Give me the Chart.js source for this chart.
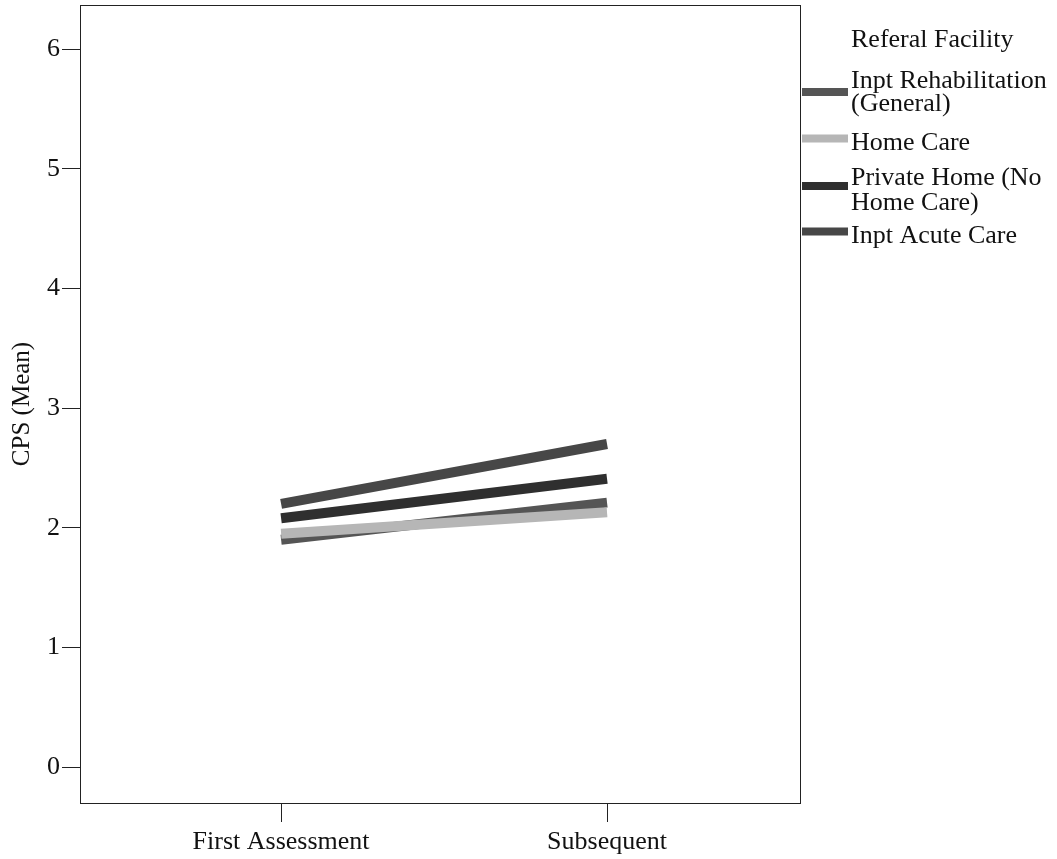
<!DOCTYPE html>
<html>
<head>
<meta charset="utf-8">
<script src="https://cdn.jsdelivr.net/npm/chart.js@4"></script>
<style>
html,body{margin:0;padding:0;background:#fff;}
#wrap{position:relative;width:1057px;height:859px;}
</style>
</head>
<body>
<div id="wrap"><canvas id="c" width="1057" height="859"></canvas></div>
<script>
const categories = ['First Assessment', 'Subsequent'];
const seriesNames = ['Inpt Rehabilitation (General)', 'Home Care', 'Private Home (No Home Care)', 'Inpt Acute Care'];
const legendLines = [['Inpt Rehabilitation', '(General)'], ['Home Care'], ['Private Home (No', 'Home Care)'], ['Inpt Acute Care']];
const inptRehab = [1.90, 2.21];
const homeCare = [1.95, 2.13];
const privateHome = [2.08, 2.41];
const inptAcute = [2.20, 2.70];
const yTicks = [0, 1, 2, 3, 4, 5, 6];
const legendTitle = 'Referal Facility';
const yTitle = 'CPS (Mean)';

const colors = ['#555555', '#b6b6b6', '#2f2f2f', '#474747'];
const values = [inptRehab, homeCare, privateHome, inptAcute];
const FONT = '"Liberation Serif", "Times New Roman", serif';

const datasets = seriesNames.map((name, i) => ({
  label: name,
  data: values[i].map((v, j) => ({x: j + 1, y: v})),
  borderColor: colors[i],
  backgroundColor: colors[i],
  borderWidth: 10,
  pointRadius: 0,
  borderCapStyle: 'butt',
  tension: 0,
  order: i === 1 ? 0 : 1
}));

const legendLayout = {
  title: 47,
  baselines: [[88, 111], [150], [185, 210], [243]],
  swatch: [92, 138.5, 186, 231.5]
};

const frame = {
  id: 'frame',
  afterDraw(chart) {
    const {ctx, chartArea: a} = chart;
    ctx.save();
    ctx.strokeStyle = '#222';
    ctx.lineWidth = 1;
    ctx.strokeRect(a.left + 0.5, a.top + 0.5, a.right - a.left, a.bottom - a.top);
    ctx.fillStyle = '#111';
    ctx.font = '26px ' + FONT;
    ctx.textBaseline = 'alphabetic';
    ctx.textAlign = 'left';
    ctx.fillText(legendTitle, 851, legendLayout.title);
    legendLines.forEach((lines, i) => {
      ctx.fillStyle = colors[i];
      ctx.fillRect(802, legendLayout.swatch[i] - 4, 46, 8);
      ctx.fillStyle = '#111';
      lines.forEach((t, k) => ctx.fillText(t, 851, legendLayout.baselines[i][k]));
    });
    ctx.restore();
  }
};

new Chart(document.getElementById('c'), {
  type: 'line',
  data: {datasets},
  options: {
    responsive: false,
    animation: false,
    layout: {padding: {top: 5, right: 257, left: 0, bottom: 0}},
    plugins: {legend: {display: false}, tooltip: {enabled: false}},
    scales: {
      x: {
        type: 'linear',
        min: 0.383,
        max: 2.592,
        afterBuildTicks(s) { s.ticks = categories.map((c, i) => ({value: i + 1})); },
        afterFit(s) { s.height = 56; s.paddingLeft = 0; s.paddingRight = 0; },
        ticks: {
          callback: (v) => categories[v - 1] || '',
          color: '#111',
          font: {family: FONT, size: 26},
          padding: 5,
          maxRotation: 0
        },
        grid: {drawOnChartArea: false, tickLength: 19, color: '#222', tickColor: '#222'},
        border: {color: '#222', width: 1}
      },
      y: {
        min: -0.3,
        max: 6.368,
        afterBuildTicks(s) { s.ticks = yTicks.map(v => ({value: v})); },
        afterFit(s) { s.width = 80; s.paddingTop = 0; s.paddingBottom = 0; },
        ticks: {color: '#111', font: {family: FONT, size: 26}, padding: 2},
        grid: {drawOnChartArea: false, tickLength: 18, color: '#222', tickColor: '#222'},
        border: {color: '#222', width: 1},
        title: {display: true, text: yTitle, color: '#111', font: {family: FONT, size: 25}, padding: {top: 7, bottom: 0}}
      }
    }
  },
  plugins: [frame]
});
</script>
</body>
</html>
